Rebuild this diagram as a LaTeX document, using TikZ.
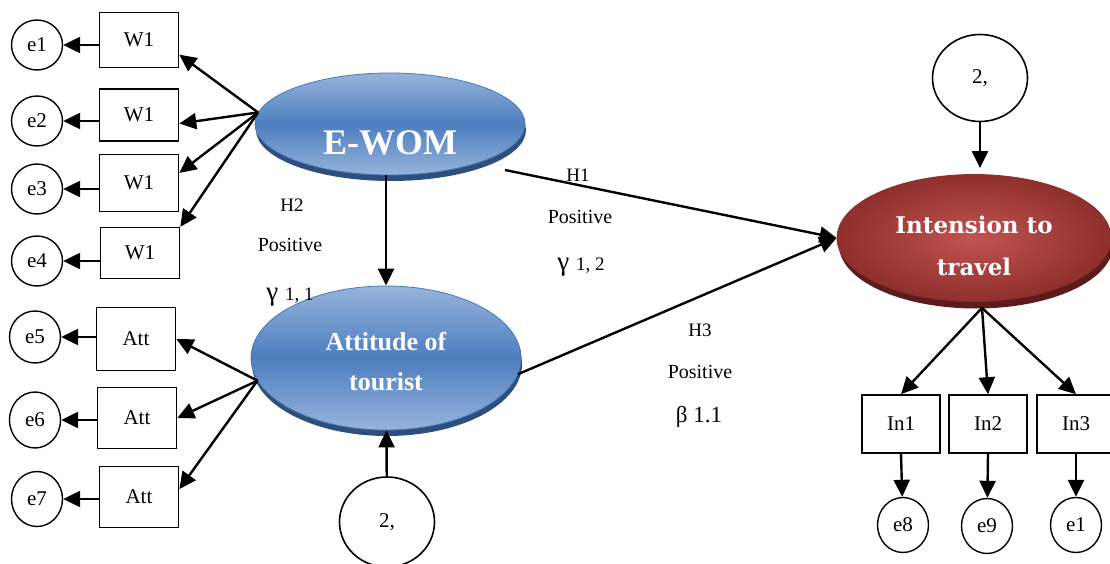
\documentclass[tikz,border=0pt]{standalone}
\usepackage{fontspec}
\setmainfont{Liberation Serif}
\newfontfamily\slabfont{DejaVu Serif}
\usetikzlibrary{shapes.geometric,arrows.meta,shadows,calc}

\definecolor{bluelight}{HTML}{96B4DC}
\definecolor{bluemid}{HTML}{4D7EBF}
\definecolor{blueedge}{HTML}{4A78B4}
\definecolor{blueshade}{HTML}{2D4F7E}
\definecolor{redin}{HTML}{C25350}
\definecolor{redout}{HTML}{8E302D}
\definecolor{rededge}{HTML}{8A2E2B}
\definecolor{redshade}{HTML}{5C1C1A}

\tikzset{
  obs/.style={draw, line width=1.6pt, minimum width=79pt, minimum height=55pt,
    inner sep=0pt, font=\fontsize{21}{24}\selectfont},
  err/.style={draw, ellipse, line width=1.4pt, minimum width=51pt, minimum height=50pt,
    inner sep=0pt, font=\fontsize{21}{24}\selectfont},
  dist/.style={draw, ellipse, line width=1.6pt, minimum width=95pt, minimum height=90pt,
    inner sep=0pt, font=\fontsize{21}{24}\selectfont},
  arr/.style={line width=2.4pt, -{Triangle[length=17pt,width=16pt]}},
  bluelat/.style={ellipse, draw=blueedge, line width=0.8pt, inner sep=0pt,
    top color=bluelight, bottom color=bluelight, middle color=bluemid,
    general shadow={fill=blueshade, shadow yshift=-6pt, shadow xshift=1pt}},
  redlat/.style={ellipse, draw=rededge, line width=0.8pt, inner sep=0pt,
    inner color=redin, outer color=redout,
    general shadow={fill=redshade, shadow yshift=-7pt, shadow xshift=2pt}},
  lattext/.style={text=white, align=center, inner sep=0pt},
  pathlab/.style={font=\fontsize{19}{22}\selectfont, inner sep=0pt},
  coef/.style={font=\fontsize{19}{22}\selectfont, inner sep=0pt, anchor=base},
}

\begin{document}
\begin{tikzpicture}[x=1pt, y=-1pt]
\useasboundingbox (0,0) rectangle (1110,564);

% latent constructs
\node[bluelat, minimum width=270pt, minimum height=102pt] (ewom) at (390,124) {};
\node[lattext, font=\bfseries\fontsize{36}{40}\selectfont] (ewomtxt) at (390,143) {E-WOM};

\node[bluelat, minimum width=270pt, minimum height=144pt] (att) at (386,358) {};
\node[lattext, font=\bfseries\fontsize{26}{40}\selectfont] (atttxt) at (386,362) {Attitude of\\tourist};

\node[redlat, minimum width=274pt, minimum height=127pt] (int) at (974,238) {};
\node[lattext, font=\slabfont\bfseries\fontsize{23}{42}\selectfont] (inttxt) at (974,246) {Intension to\\travel};

% disturbances
\node[dist] (d1) at (387,522) {2,};
\node[dist, minimum height=87pt] (d2) at (980,78) {2,};

% E-WOM indicators
\node[obs] (w1) at (139,40) {W1};
\node[obs, minimum height=52pt] (w2) at (139,115) {W1};
\node[obs, minimum height=57pt] (w3) at (139,183) {W1};
\node[obs, minimum height=51pt] (w4) at (140,253) {W1};
\node[err] (e1) at (37,45) {e1};
\node[err] (e2) at (37,121) {e2};
\node[err] (e3) at (37,189) {e3};
\node[err] (e4) at (37,261) {e4};

% attitude indicators
\node[obs, minimum height=63pt] (a1) at (136,339) {Att};
\node[obs, minimum height=61pt] (a2) at (137,418) {Att};
\node[obs, minimum height=61pt] (a3) at (139,497) {Att};
\node[err, minimum height=52pt] (e5) at (35,337) {e5};
\node[err, minimum height=56pt] (e6) at (35,420) {e6};
\node[err, minimum height=55pt] (e7) at (37,499) {e7};

% intention indicators
\node[obs, minimum width=78pt, minimum height=58pt] (in1) at (901,424) {In1};
\node[obs, minimum width=78pt, minimum height=58pt] (in2) at (988,424) {In2};
\node[obs, minimum width=78pt, minimum height=58pt] (in3) at (1076,424) {In3};
\node[err, minimum height=55pt] (e8) at (903,525) {e8};
\node[err, minimum height=55pt] (e9) at (987,526) {e9};
\node[err, minimum height=55pt] (e10) at (1076,525) {e1};

% loadings
\foreach \b/\a in {w1/-20, w2/-12, w3/14, w4/33}
  \draw[arr] (ewom.175) -- (\b.\a);
\foreach \b/\a in {a1/0, a2/0, a3/11}
  \draw[arr] (att.190) -- (\b.\a);
\coordinate (intfoot) at ($(int.south)+(8,6)$);
\foreach \b in {in1, in2, in3}
  \draw[arr] (intfoot) -- (\b.north);

% measurement errors
\foreach \b/\e in {w1/e1, w2/e2, w3/e3, w4/e4, a1/e5, a2/e6, a3/e7}
  \draw[arr] (\b.west |- \e) -- (\e);
\foreach \b/\e in {in1/e8, in2/e9, in3/e10}
  \draw[arr] (\b.south) -- (\e);

% structural paths
\draw[arr] (ewom.south -| att) -- (att.north);
\draw[arr] ($(ewom.center)+(115,46)$) -- (int.west);
\draw[arr] (att.-7) -- (int.west);
\draw[arr] (d1) -- (att);
\draw[arr, shorten >=6pt] (d2.south) -- (d2.south |- int.north);

% path labels
\node[pathlab] (h2) at (292,205) {H2};
\node[pathlab, font=\fontsize{20}{22}\selectfont] (p2) at (290,245) {Positive};
\node[coef] (g11) at (290,300) {{\fontsize{27}{28}\selectfont γ}\hspace{7pt}1, 1};

\node[pathlab] (h1) at (578,175) {H1};
\node[pathlab, font=\fontsize{20}{22}\selectfont] (p1) at (580,217) {Positive};
\node[coef] (g12) at (581,270) {{\fontsize{27}{28}\selectfont γ}\hspace{7pt}1, 2};

\node[pathlab] (h3) at (700,330) {H3};
\node[pathlab, font=\fontsize{20}{22}\selectfont] (p3) at (700,372) {Positive};
\node[coef, font=\fontsize{23}{26}\selectfont] (b11) at (699,422) {β 1.1};
\end{tikzpicture}
\end{document}
